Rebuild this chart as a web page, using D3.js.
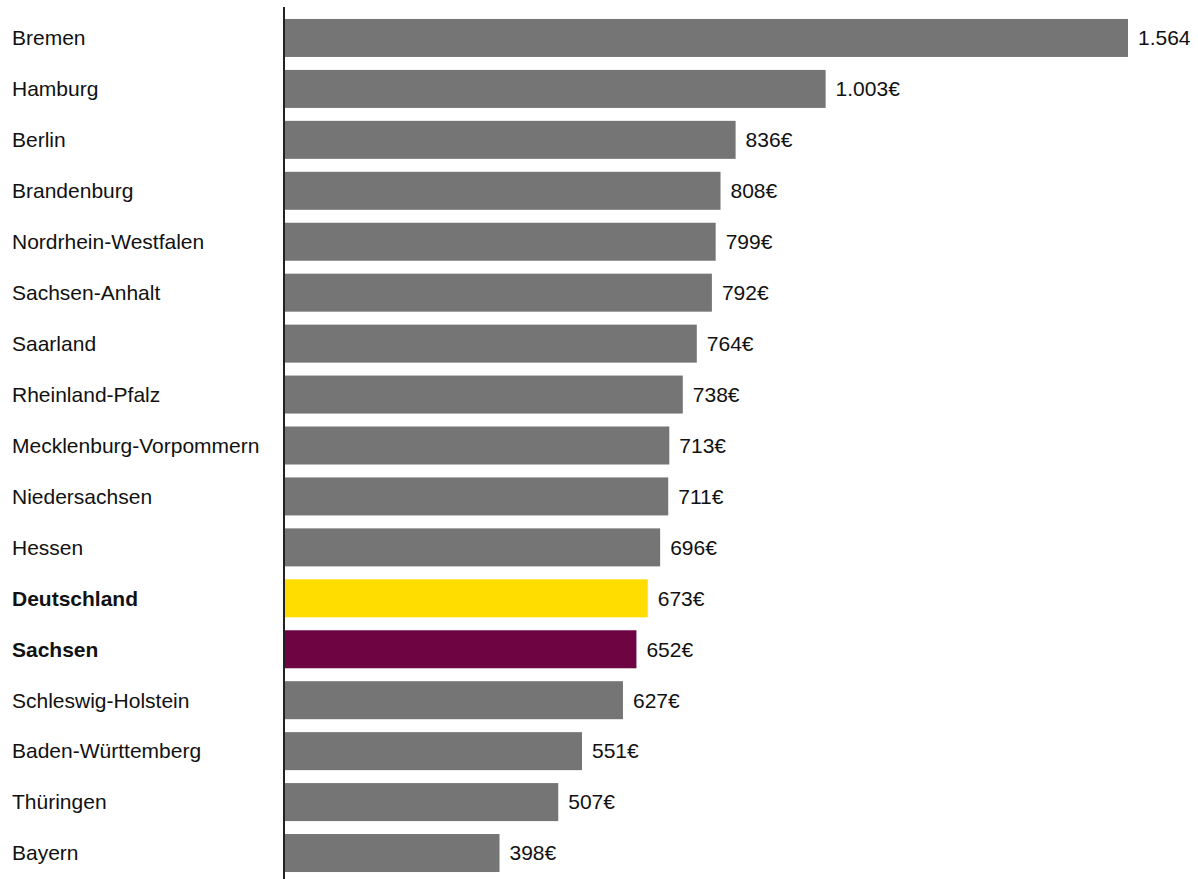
<!DOCTYPE html>
<html>
<head>
<meta charset="utf-8">
<script src="https://cdn.jsdelivr.net/npm/d3@7"></script>
<style>
  html, body { margin: 0; padding: 0; background: #fff; }
  svg { display: block; }
</style>
</head>
<body>
<svg id="chart" width="1198" height="879"></svg>
<script>
const categories = ["Bremen","Hamburg","Berlin","Brandenburg","Nordrhein-Westfalen","Sachsen-Anhalt","Saarland","Rheinland-Pfalz","Mecklenburg-Vorpommern","Niedersachsen","Hessen","Deutschland","Sachsen","Schleswig-Holstein","Baden-Württemberg","Thüringen","Bayern"];
const values = [1564,1003,836,808,799,792,764,738,713,711,696,673,652,627,551,507,398];
const valueLabels = ["1.564","1.003€","836€","808€","799€","792€","764€","738€","713€","711€","696€","673€","652€","627€","551€","507€","398€"];
const boldCategories = ["Deutschland","Sachsen"];
const highlightColors = {"Deutschland":"#FFDD00","Sachsen":"#6E0542"};

const svg = d3.select("#chart");
const font = "'Liberation Sans', Arial, sans-serif";

const x = d3.scaleLinear().domain([0, 1564]).range([285, 1128]);
const y = d3.scaleBand().domain(categories).range([12.5, 878.5]).paddingInner(0.254).paddingOuter(0.127);

const data = categories.map((c, i) => ({cat: c, val: values[i], label: valueLabels[i]}));

svg.selectAll("rect.bar").data(data).enter().append("rect")
  .attr("class", "bar")
  .attr("x", x(0))
  .attr("y", d => y(d.cat))
  .attr("width", d => x(d.val) - x(0))
  .attr("height", y.bandwidth())
  .attr("fill", d => highlightColors[d.cat] || "#757575");

svg.selectAll("text.cat").data(data).enter().append("text")
  .attr("class", "cat")
  .attr("x", 12)
  .attr("y", d => y(d.cat) + y.bandwidth() / 2)
  .attr("dy", "0.35em")
  .attr("font-family", font)
  .attr("font-size", 21)
  .attr("font-weight", d => boldCategories.includes(d.cat) ? "bold" : "normal")
  .attr("fill", "#111")
  .text(d => d.cat);

svg.selectAll("text.val").data(data).enter().append("text")
  .attr("class", "val")
  .attr("x", d => x(d.val) + 10)
  .attr("y", d => y(d.cat) + y.bandwidth() / 2)
  .attr("dy", "0.35em")
  .attr("font-family", font)
  .attr("font-size", 21)
  .attr("fill", "#111")
  .text(d => d.label);

svg.append("line")
  .attr("x1", 284).attr("x2", 284)
  .attr("y1", 7).attr("y2", 879)
  .attr("stroke", "#222")
  .attr("stroke-width", 2);
</script>
</body>
</html>
